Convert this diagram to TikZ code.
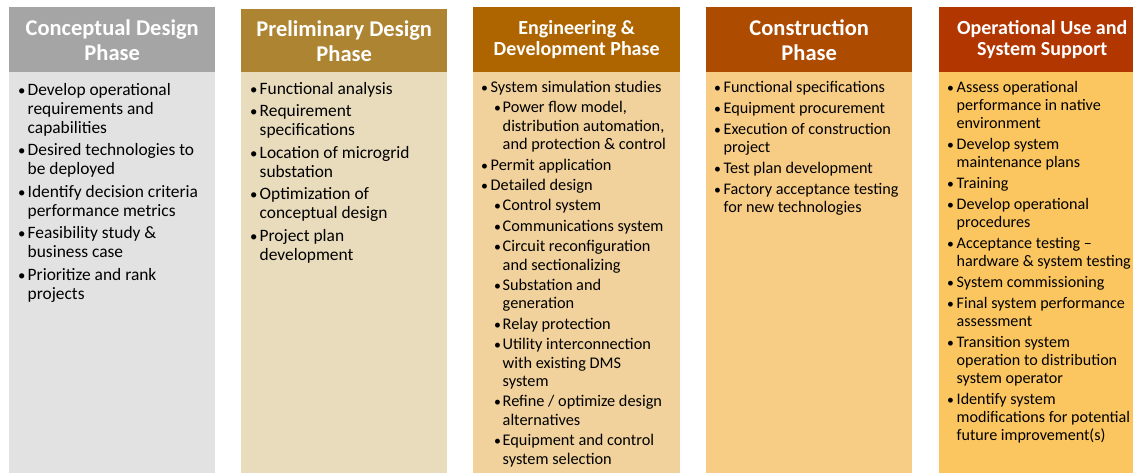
\documentclass[tikz,border=0pt]{standalone}
\usepackage{fontspec}
\setmainfont{Carlito}
\definecolor{hA}{HTML}{A5A5A5}\definecolor{bA}{HTML}{E2E2E2}
\definecolor{hB}{HTML}{AD8431}\definecolor{bB}{HTML}{E9DCBD}
\definecolor{hC}{HTML}{AE6500}\definecolor{bC}{HTML}{F1D29C}
\definecolor{hD}{HTML}{AD4B00}\definecolor{bD}{HTML}{F7CC85}
\definecolor{hE}{HTML}{B13600}\definecolor{bE}{HTML}{FBC660}
\newcommand\bu{\makebox[9.5pt][l]{\scalebox{0.85}{•}}}
\newcommand\ind{\hspace*{9.5pt}}
\newcommand\sbu{\hspace*{13pt}\makebox[8.5pt][l]{\scalebox{0.85}{•}}}
\newcommand\sind{\hspace*{21.5pt}}
\begin{document}
\begin{tikzpicture}[x=1pt,y=-1pt,
  hdr/.style={anchor=north west, minimum width=206pt, minimum height=65pt, inner sep=0pt, text=white, font=\bfseries\fontsize{22.5}{25}\selectfont, align=center},
  hdrs/.style={hdr, font=\bfseries\fontsize{20}{20.5}\selectfont},
  bodybox/.style={anchor=north west, minimum width=206pt, minimum height=401pt, inner sep=0pt},
  txt/.style={anchor=north west, inner sep=0pt, align=left, text=black, font=\fontsize{17.4}{19}\selectfont},
  txts/.style={txt, font=\fontsize{16.3}{18.4}\selectfont}
]
\useasboundingbox[fill=white] (0,0) rectangle (1133,473);
% column 1
\node[bodybox, fill=bA] (b1) at (9,72) {};
\node[hdr, fill=hA] (h1) at (9,7) {Conceptual Design\\Phase};
\node[txt] (t1) at (18,83) {%
\bu Develop operational\\%
\ind requirements and\\%
\ind capabilities\\[3.5pt]%
\bu Desired technologies to\\%
\ind be deployed\\[3.5pt]%
\bu Identify decision criteria\\%
\ind performance metrics\\[3.5pt]%
\bu Feasibility study \&\\%
\ind business case\\[3.5pt]%
\bu Prioritize and rank\\%
\ind projects};
% column 2
\node[bodybox, fill=bB] (b2) at (241,72) {};
\node[hdr, fill=hB, minimum height=63pt] (h2) at (241,9) {Preliminary Design\\Phase};
\node[txt] (t2) at (250,82) {%
\bu Functional analysis\\[3.5pt]%
\bu Requirement\\%
\ind specifications\\[3.5pt]%
\bu Location of microgrid\\%
\ind substation\\[3.5pt]%
\bu Optimization of\\%
\ind conceptual design\\[3.5pt]%
\bu Project plan\\%
\ind development};
% column 3
\node[bodybox, fill=bC, minimum width=207pt] (b3) at (473,72) {};
\node[hdrs, fill=hC, minimum width=207pt] (h3) at (473,7) {Engineering \&\\Development Phase};
\node[txts] (t3) at (481,81) {%
\bu System simulation studies\\[2pt]%
\sbu Power flow model,\\%
\sind distribution automation,\\%
\sind and protection \& control\\[2pt]%
\bu Permit application\\[2pt]%
\bu Detailed design\\[2pt]%
\sbu Control system\\[2pt]%
\sbu Communications system\\[2pt]%
\sbu Circuit reconfiguration\\%
\sind and sectionalizing\\[2pt]%
\sbu Substation and\\%
\sind generation\\[2pt]%
\sbu Relay protection\\[2pt]%
\sbu Utility interconnection\\%
\sind with existing DMS\\%
\sind system\\[2pt]%
\sbu Refine / optimize design\\%
\sind alternatives\\[2pt]%
\sbu Equipment and control\\%
\sind system selection};
% column 4
\node[bodybox, fill=bD] (b4) at (706,72) {};
\node[hdr, fill=hD] (h4) at (706,7) {Construction\\Phase};
\node[txt, font=\fontsize{16.2}{18}\selectfont] (t4) at (714,81) {%
\bu Functional specifications\\[3pt]%
\bu Equipment procurement\\[3pt]%
\bu Execution of construction\\%
\ind project\\[3pt]%
\bu Test plan development\\[3pt]%
\bu Factory acceptance testing\\%
\ind for new technologies};
% column 5
\node[bodybox, fill=bE] (b5) at (939,72) {};
\node[hdrs, fill=hE] (h5) at (939,7) {Operational Use and\\System Support};
\node[txt, font=\fontsize{16.1}{18}\selectfont] (t5) at (947,81) {%
\bu Assess operational\\%
\ind performance in native\\%
\ind environment\\[3pt]%
\bu Develop system\\%
\ind maintenance plans\\[3pt]%
\bu Training\\[3pt]%
\bu Develop operational\\%
\ind procedures\\[3pt]%
\bu Acceptance testing –\\%
\ind hardware \& system testing\\[3pt]%
\bu System commissioning\\[3pt]%
\bu Final system performance\\%
\ind assessment\\[3pt]%
\bu Transition system\\%
\ind operation to distribution\\%
\ind system operator\\[3pt]%
\bu Identify system\\%
\ind modifications for potential\\%
\ind future improvement(s)};
\end{tikzpicture}
\end{document}
